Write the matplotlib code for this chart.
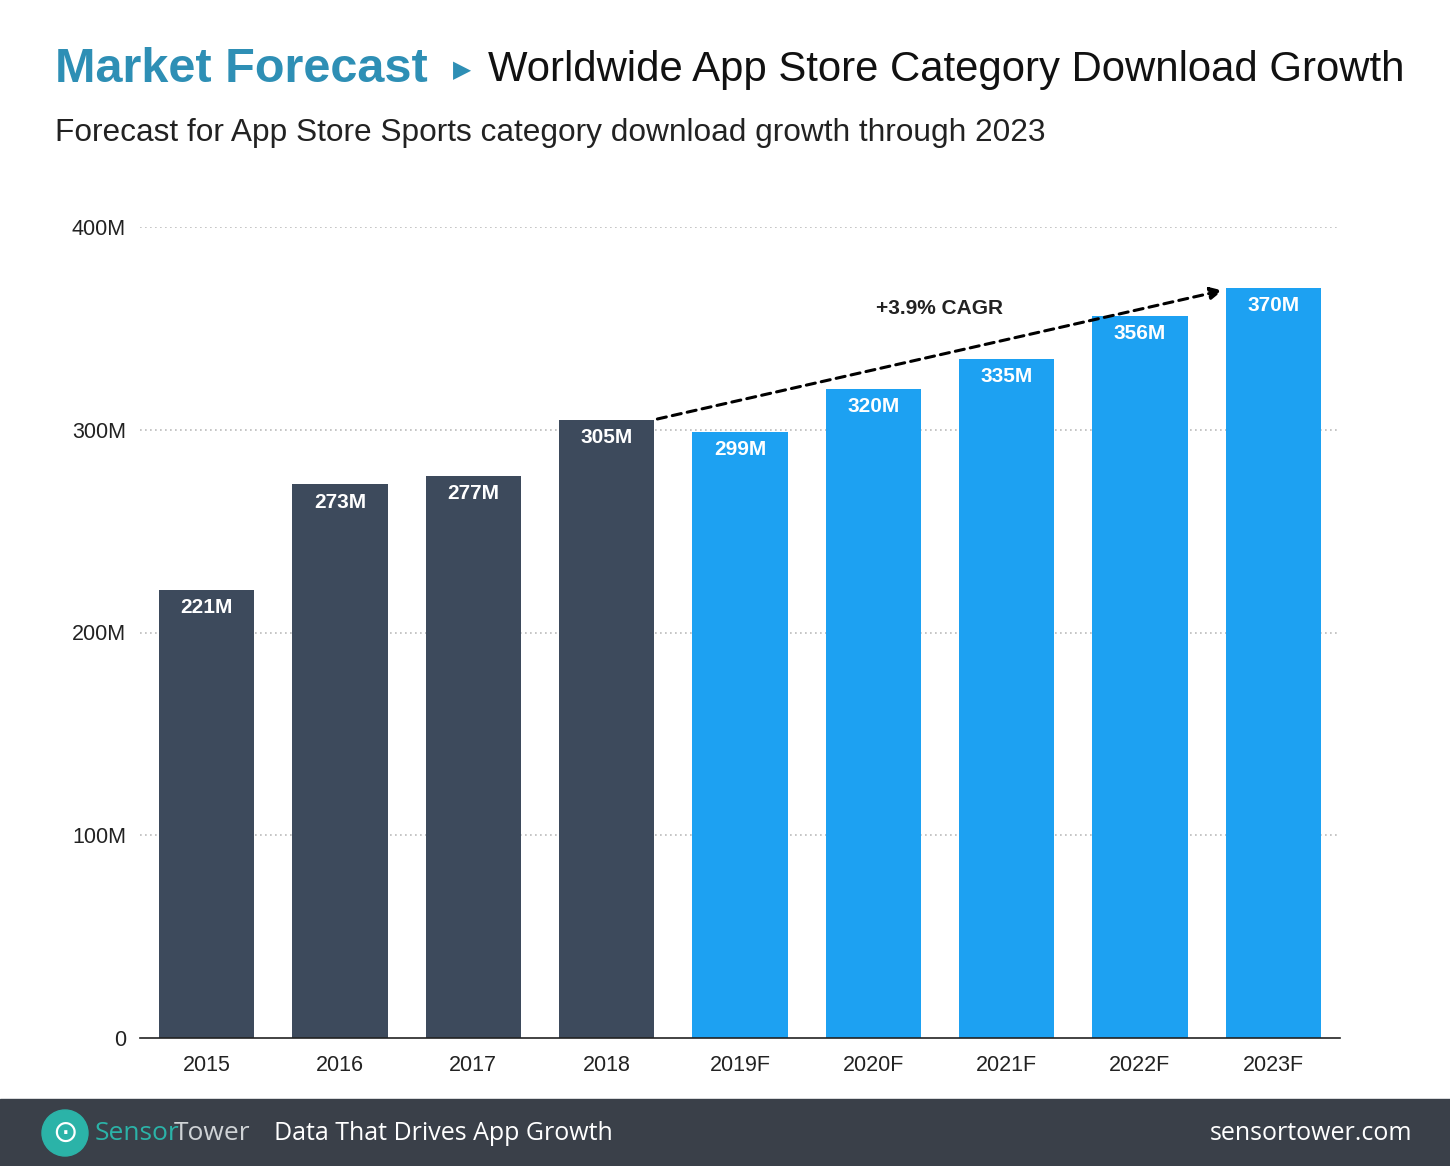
import matplotlib
matplotlib.use("Agg")
import matplotlib.pyplot as plt
from matplotlib.patches import Rectangle, Circle

years = ["2015", "2016", "2017", "2018", "2019F", "2020F", "2021F", "2022F", "2023F"]
downloads = [221, 273, 277, 305, 299, 320, 335, 356, 370]
forecast = [False, False, False, False, True, True, True, True, True]
yticks = [0, 100, 200, 300, 400]
ytick_labels = ["0", "100M", "200M", "300M", "400M"]

plt.rcParams['font.family'] = ['Liberation Sans', 'DejaVu Sans']
fig = plt.figure(figsize=(14.5, 11.66), dpi=100)
ax = fig.add_axes([140/1450, 1 - 1038/1166, 1200/1450, 811/1166])

x = list(range(len(years)))
colors = ['#1da1f2' if f else '#3d4a5c' for f in forecast]
ax.bar(x, downloads, width=0.715, color=colors, zorder=2)
for xi, v in zip(x, downloads):
    ax.text(xi, v - 4, f"{v}M", ha='center', va='top', color='white',
            fontsize=15, fontweight='bold', zorder=3)

ax.set_xlim(-0.5, 8.5)
ax.set_ylim(0, 400)
ax.set_yticks(yticks)
ax.set_yticklabels(ytick_labels, fontsize=15.5, color='#222222')
ax.set_xticks(x)
ax.set_xticklabels(years, fontsize=15.5, color='#222222')
ax.tick_params(length=0, pad=12)
ax.tick_params(axis='y', pad=10)
for s in ['top', 'right', 'left']:
    ax.spines[s].set_visible(False)
ax.spines['bottom'].set_color('#222222')
ax.spines['bottom'].set_linewidth(1.2)
for yv in yticks[1:]:
    ax.axhline(yv, color='#bbbbbb', lw=1.2, ls=(0, (1, 2)), zorder=1)

ax.annotate("", xy=(7.64, 369), xytext=(3.36, 305),
            arrowprops=dict(arrowstyle='-|>', color='black', lw=2.2,
                            ls=(0, (3, 2)), mutation_scale=18), zorder=4)
ax.text(5.5, 360, "+3.9% CAGR", ha='center', va='center', fontsize=15,
        fontweight='bold', color='#222222')

ty = 1 - 70/1166
fig.text(55/1450, ty, "Market Forecast", fontsize=35, fontweight='bold',
         color='#2e8fb5', va='center', ha='left')
fig.text(462/1450, ty, "\u25B6", fontsize=17, color='#2e8fb5',
         va='center', ha='center', family=['DejaVu Sans'])
fig.text(488/1450, ty, "Worldwide App Store Category Download Growth",
         fontsize=30.2, color='#111111', va='center', ha='left')
fig.text(55/1450, 1 - 133/1166, "Forecast for App Store Sports category download growth through 2023",
         fontsize=22.8, color='#222222', va='center', ha='left')

fig.patches.append(Rectangle((0, 0), 1, 67/1166, transform=fig.transFigure,
                             color='#3a4049', zorder=0))
fy = 1 - 1133/1166
fig.patches.append(Circle((65, 1166 - 1133), 23, transform=None,
                          color='#2bb3a8', zorder=1))
fig.text(65/1450, fy, "\u2299", fontsize=22, color='white', ha='center', va='center',
         family=['DejaVu Sans'])
fig.text(95/1450, fy, "Sensor", fontsize=19, color='#2bb3a8', ha='left', va='center',
         family=['Open Sans'])
fig.text(174/1450, fy, "Tower", fontsize=19, color='#cfd3d6', ha='left', va='center',
         family=['Open Sans'])
fig.text(274/1450, fy, "Data That Drives App Growth", fontsize=18, color='white',
         ha='left', va='center', family=['Open Sans'])
fig.text(1412/1450, fy, "sensortower.com", fontsize=18, color='white',
         ha='right', va='center', family=['Open Sans'])

fig.savefig("out.png", dpi=100, facecolor='white')
